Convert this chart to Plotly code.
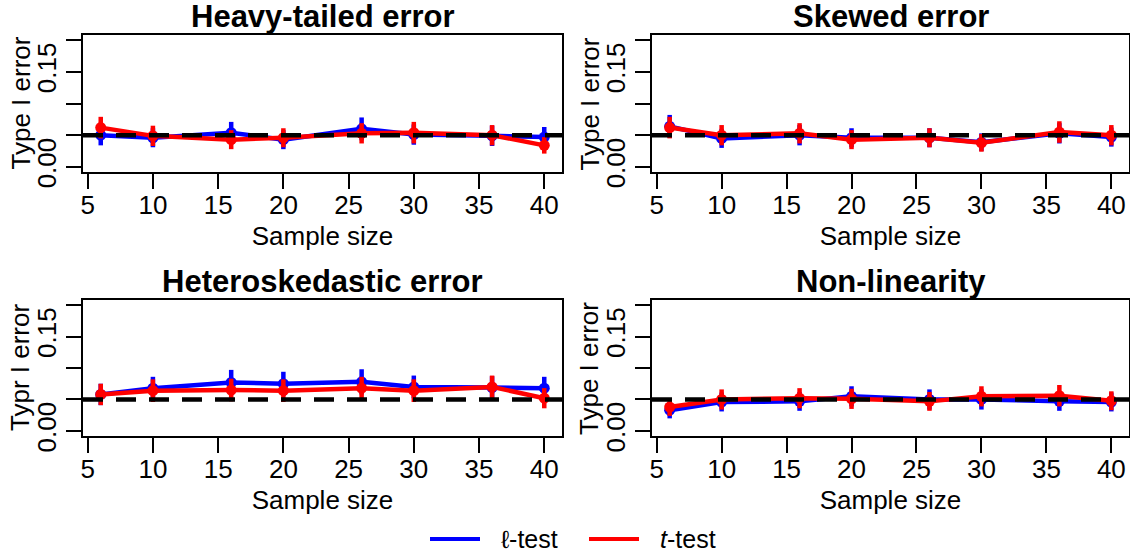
import plotly.graph_objects as go
from plotly.subplots import make_subplots

# ---------------- data ----------------
sample_sizes = [6, 10, 16, 20, 26, 30, 36, 40]
panel_titles = ["Heavy-tailed error", "Skewed error", "Heteroskedastic error", "Non-linearity"]
y_titles = ["Type I error", "Type I error", "Typr I error", "Type I error"]
x_title = "Sample size"
nominal_level = 0.05

ell_heavy = [0.050, 0.046, 0.054, 0.043, 0.060, 0.051, 0.049, 0.047]
t_heavy = [0.062, 0.049, 0.043, 0.046, 0.053, 0.054, 0.050, 0.034]
ell_heavy_err = [0.016, 0.015, 0.017, 0.015, 0.018, 0.016, 0.016, 0.016]
t_heavy_err = [0.017, 0.016, 0.015, 0.015, 0.016, 0.017, 0.016, 0.013]

ell_skew = [0.064, 0.045, 0.050, 0.046, 0.046, 0.039, 0.053, 0.047]
t_skew = [0.062, 0.050, 0.053, 0.043, 0.046, 0.038, 0.055, 0.050]
ell_skew_err = [0.018, 0.015, 0.016, 0.015, 0.015, 0.014, 0.016, 0.015]
t_skew_err = [0.017, 0.016, 0.016, 0.015, 0.015, 0.014, 0.017, 0.016]

ell_het = [0.058, 0.068, 0.077, 0.075, 0.078, 0.070, 0.069, 0.068]
t_het = [0.058, 0.064, 0.065, 0.064, 0.068, 0.064, 0.070, 0.052]
ell_het_err = [0.017, 0.018, 0.020, 0.019, 0.020, 0.018, 0.018, 0.018]
t_het_err = [0.017, 0.018, 0.018, 0.018, 0.018, 0.018, 0.018, 0.016]

ell_nonlin = [0.033, 0.046, 0.047, 0.055, 0.050, 0.050, 0.047, 0.046]
t_nonlin = [0.038, 0.050, 0.052, 0.051, 0.047, 0.055, 0.056, 0.048]
ell_nonlin_err = [0.013, 0.015, 0.015, 0.016, 0.016, 0.016, 0.015, 0.015]
t_nonlin_err = [0.014, 0.016, 0.016, 0.016, 0.015, 0.016, 0.017, 0.015]

x_ticks = [5, 10, 15, 20, 25, 30, 35, 40]
y_ticks = [0.0, 0.05, 0.10, 0.15, 0.20]
y_tick_text = ["0.00", "", "", "0.15", ""]

series_names = ["\u2113-test", "<i>t</i>-test"]
series_colors = ["#0000FF", "#FF0000"]

panels = [
    (ell_heavy, ell_heavy_err, t_heavy, t_heavy_err),
    (ell_skew, ell_skew_err, t_skew, t_skew_err),
    (ell_het, ell_het_err, t_het, t_het_err),
    (ell_nonlin, ell_nonlin_err, t_nonlin, t_nonlin_err),
]

# ---------------- layout geometry ----------------
W, H = 1130, 552
FONT = "Liberation Sans, Arial, Helvetica, sans-serif"
xdoms = [[83 / W, 562 / W], [652 / W, 1129 / W]]
ydoms = [[1 - 172 / H, 1 - 35 / H], [1 - 436 / H, 1 - 300 / H]]

fig = make_subplots(rows=2, cols=2)

for i, (e_v, e_e, t_v, t_e) in enumerate(panels):
    r, c = i // 2 + 1, i % 2 + 1
    for vals, errs, col in ((e_v, e_e, series_colors[0]), (t_v, t_e, series_colors[1])):
        fig.add_trace(
            go.Scatter(
                x=sample_sizes, y=vals, mode="lines+markers",
                line=dict(color=col, width=4.5),
                marker=dict(color=col, size=11),
                error_y=dict(type="data", array=errs, visible=True,
                             color=col, thickness=4.5, width=0),
                showlegend=False, hoverinfo="skip",
            ),
            row=r, col=c,
        )
    axn = "" if i == 0 else str(i + 1)
    fig.add_shape(
        type="line", xref=f"x{axn} domain", yref=f"y{axn}",
        x0=0, x1=1, y0=nominal_level, y1=nominal_level,
        line=dict(color="black", width=4.5, dash="20px,13px"),
        layer="above",
    )

axis_common = dict(
    showline=True, mirror=True, linecolor="black", linewidth=2,
    ticks="outside", ticklen=15, tickwidth=2, tickcolor="black",
    showgrid=False, zeroline=False, automargin=False,
    tickfont=dict(family=FONT, size=26, color="black"),
)

for i in range(4):
    r, c = i // 2, i % 2
    axn = "" if i == 0 else str(i + 1)
    fig.layout[f"xaxis{axn}"].update(
        domain=xdoms[c], range=[4.64, 41.36], tickmode="array", tickvals=x_ticks,
        ticklabelstandoff=-6,
        title=dict(text=x_title, font=dict(family=FONT, size=26, color="black"), standoff=8),
        **axis_common,
    )
    fig.layout[f"yaxis{axn}"].update(
        domain=ydoms[r], range=[-0.008, 0.208], tickmode="array",
        tickvals=y_ticks, ticktext=y_tick_text, tickangle=-90,
        **axis_common,
    )
    # panel title
    fig.add_annotation(
        text=f"<b>{panel_titles[i]}</b>", xref="paper", yref="paper",
        x=(xdoms[c][0] + xdoms[c][1]) / 2, y=ydoms[r][1] - 1 / H,
        xanchor="center", yanchor="bottom", showarrow=False,
        font=dict(family=FONT, size=31, color="black"),
    )
    # y-axis title
    fig.add_annotation(
        text=y_titles[i], xref="paper", yref="paper",
        x=xdoms[c][0] - 63 / W, y=(ydoms[r][0] + ydoms[r][1]) / 2,
        xanchor="center", yanchor="middle", textangle=-90, showarrow=False,
        font=dict(family=FONT, size=26, color="black"),
    )

# legend (keys drawn in paper coordinates)
legend_keys = [(430, 480, 499), (589, 639, 658)]
for (x0, x1, tx), name, col in zip(legend_keys, series_names, series_colors):
    fig.add_shape(type="line", xref="paper", yref="paper",
                  x0=x0 / W, x1=x1 / W, y0=1 - 539 / H, y1=1 - 539 / H,
                  line=dict(color=col, width=4))
    fig.add_annotation(text=name, xref="paper", yref="paper",
                       x=tx / W, y=1 - 539 / H, xanchor="left", yanchor="middle",
                       showarrow=False, font=dict(family=FONT, size=25, color="black"))

fig.update_layout(
    width=W, height=H,
    margin=dict(l=0, r=0, t=0, b=0),
    paper_bgcolor="white", plot_bgcolor="white",
    font=dict(family=FONT, color="black"),
    showlegend=False,
)

fig.write_html("out.html")
